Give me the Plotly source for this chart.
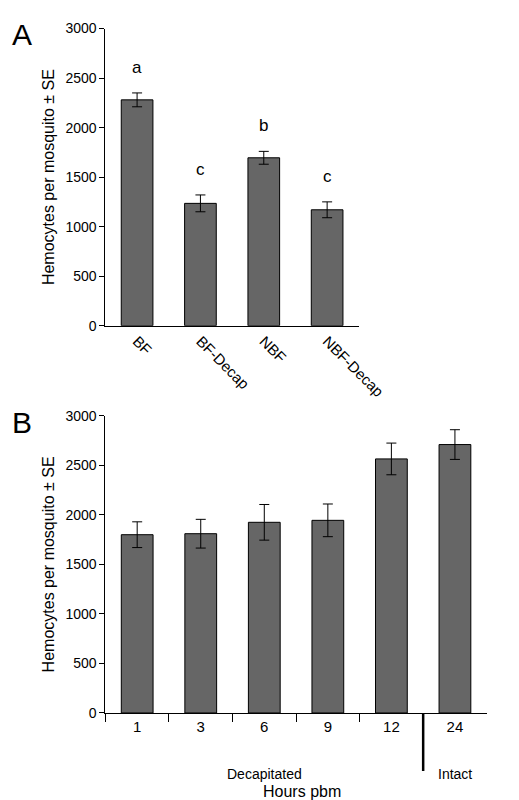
import plotly.graph_objects as go

cats_a = ["BF", "BF-Decap", "NBF", "NBF-Decap"]
vals_a = [2280, 1235, 1695, 1170]
err_a = [70, 85, 65, 80]
letters_a = ["a", "c", "b", "c"]

cats_b = ["1", "3", "6", "9", "12", "24"]
vals_b = [1800, 1810, 1925, 1945, 2565, 2710]
err_b = [130, 145, 180, 165, 160, 150]

F = "Liberation Sans, Arial, sans-serif"
fig = go.Figure()
fig.add_trace(go.Bar(x=cats_a, y=vals_a, width=0.5, marker=dict(color="#666666", line=dict(color="black", width=1)),
                     error_y=dict(type="data", array=err_a, color="black", thickness=1, width=5),
                     xaxis="x", yaxis="y"))
fig.add_trace(go.Bar(x=cats_b, y=vals_b, width=0.5, marker=dict(color="#666666", line=dict(color="black", width=1)),
                     error_y=dict(type="data", array=err_b, color="black", thickness=1, width=5),
                     xaxis="x2", yaxis="y2"))
ax = dict(showline=True, linecolor="black", ticks="outside", tickcolor="black", ticklen=5, showgrid=False,
          tickfont=dict(size=14, color="black"), zeroline=False)
letter_ann = [dict(text=l, x=c, y=v + e, xref="x", yref="y", showarrow=False, yanchor="bottom", yshift=14,
                   font=dict(size=17)) for c, v, e, l in zip(cats_a, vals_a, err_a, letters_a)]
fig.update_layout(
    width=519, height=800, margin=dict(l=0, r=0, t=0, b=0), showlegend=False,
    plot_bgcolor="white", paper_bgcolor="white", font=dict(family=F, color="black"),
    xaxis=dict(ax, domain=[0.198, 0.713], anchor="y", tickangle=45, tickfont=dict(size=15, color="black"), ticks="", range=[-0.5, 3.5]),
    yaxis=dict(ax, domain=[0.605, 0.984], anchor="x", range=[0, 3000], dtick=500,
               title=dict(text="Hemocytes per mosquito ± SE", font=dict(size=16), standoff=6)),
    xaxis2=dict(ax, domain=[0.198, 0.973], anchor="y2", tickson="boundaries", range=[-0.5, 5.5], ticklen=8,
                tickfont=dict(size=15, color="black")),
    yaxis2=dict(ax, domain=[0.111, 0.49], anchor="x2", range=[0, 3000], dtick=500,
                title=dict(text="Hemocytes per mosquito ± SE", font=dict(size=16), standoff=6)),
    shapes=[dict(type="line", xref="x2", yref="paper", x0=4.5, x1=4.5, y0=0.111, y1=0.037,
                 line=dict(color="black", width=2.5))],
    annotations=letter_ann + [
        dict(text="A", x=0.005, y=1.0, xref="paper", yref="paper", showarrow=False, font=dict(size=30), xanchor="left", yanchor="top"),
        dict(text="B", x=0.005, y=0.505, xref="paper", yref="paper", showarrow=False, font=dict(size=30), xanchor="left", yanchor="top"),
        dict(text="Decapitated", x=2, y=0.02, xref="x2", yref="paper", showarrow=False, font=dict(size=14)),
        dict(text="Intact", x=5, y=0.02, xref="x2", yref="paper", showarrow=False, font=dict(size=14)),
        dict(text="Hours pbm", x=2.6, y=-0.003, xref="x2", yref="paper", showarrow=False, font=dict(size=16), yanchor="bottom"),
    ],
)
fig.write_html("out.html")
